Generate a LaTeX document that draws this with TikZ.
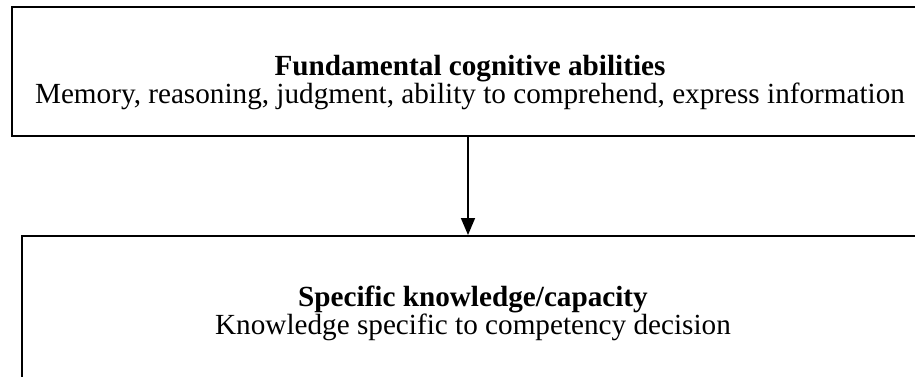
\documentclass[tikz,border=0pt]{standalone}
\usepackage{fontspec}
\setmainfont{Liberation Serif}
\usetikzlibrary{arrows.meta,positioning}
\tikzstyle{box} = [draw,line width=1pt,rectangle,inner sep=0]
\tikzstyle{caption} = [align=center,inner sep=0,font=\fontsize{14.6}{13.6}\selectfont]
\tikzstyle{link} = [line width=0.8pt,-{Triangle[width=7pt,length=8.5pt]}]
\def \px {0.5pt}

\begin{document}
\begin{tikzpicture}[x=\px,y=-\px]
      \useasboundingbox (0,0) rectangle (915,376);
      \node[box,minimum width=458pt,minimum height=64.5pt] (top) at (470,71.5) {};
      \node[box,minimum width=451pt,minimum height=84pt] (low) at (473,320) {};
      \node[caption,anchor=base] (topt) at (470,103) {\textbf{Fundamental cognitive abilities}\\Memory, reasoning, judgment, ability to comprehend, express information};
      \node[caption,anchor=base] (lowt) at (473,334) {\textbf{Specific knowledge/capacity}\\Knowledge specific to competency decision};
      \draw[link] ([xshift=-1pt]top.south) -- ([xshift=-1pt]top.south |- low.north);
    \end{tikzpicture}
\end{document}
